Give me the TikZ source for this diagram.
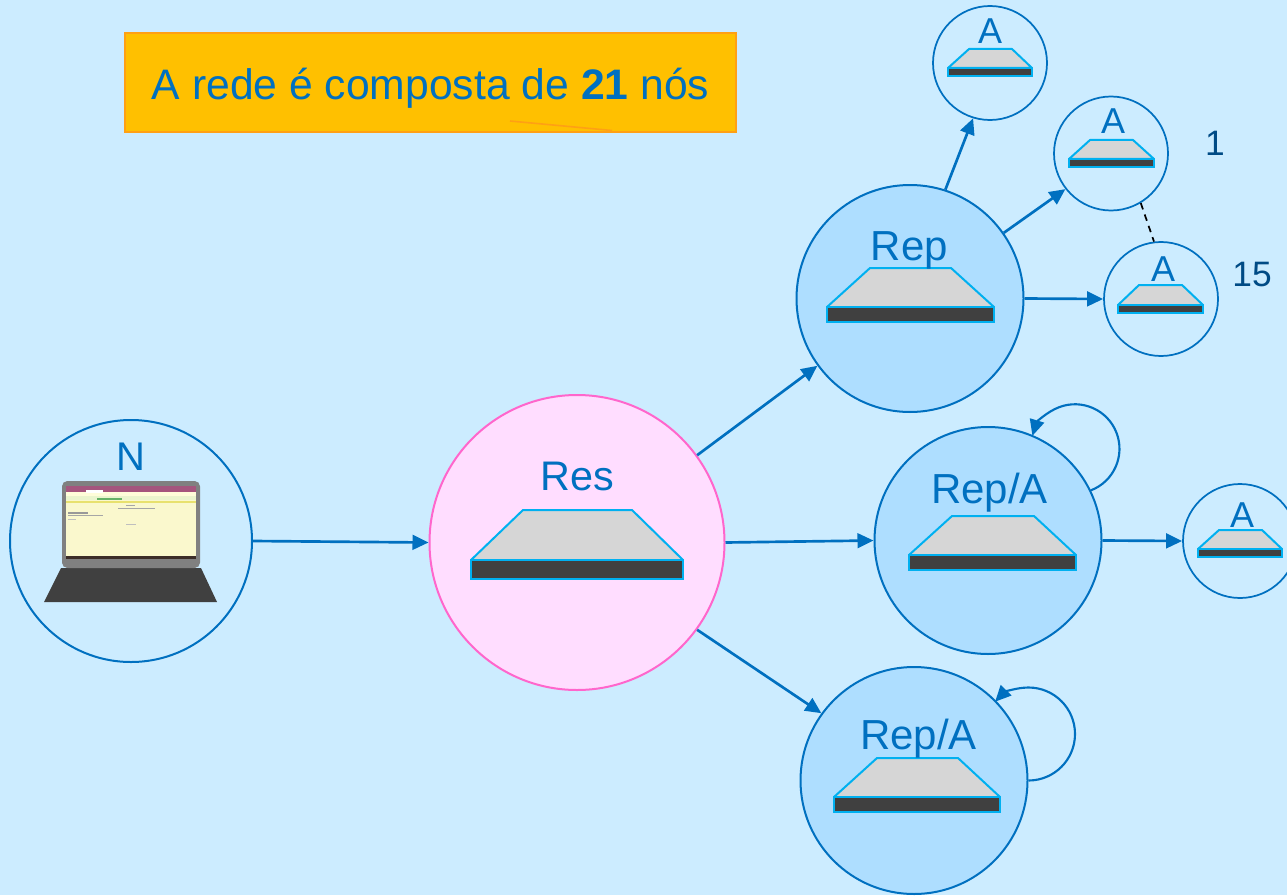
\documentclass[tikz,border=0pt]{standalone}
\usepackage{fontspec}
\setmainfont{Liberation Sans}
\usetikzlibrary{arrows.meta}
\definecolor{bgc}{HTML}{CCECFF}
\definecolor{blu}{HTML}{0070C0}
\definecolor{repc}{HTML}{AEDEFF}
\definecolor{resc}{HTML}{FFDDFF}
\definecolor{resl}{HTML}{FF66CC}
\definecolor{cyanl}{HTML}{00B0F0}
\definecolor{dark}{HTML}{404040}
\definecolor{topc}{HTML}{D6D6D6}
\definecolor{numc}{HTML}{004B85}
\definecolor{orgl}{HTML}{FFA014}
\definecolor{orgf}{HTML}{FFC000}
\definecolor{scrbody}{HTML}{FAF8CD}
\definecolor{scrhead}{HTML}{A5557D}
\definecolor{scrrow}{HTML}{EBF5CD}
\definecolor{scrstripe}{HTML}{E8E16E}
\definecolor{scrbar}{HTML}{3C2D28}
\tikzset{
  x=0.75pt,y=-0.75pt,
  hub/.style={circle,draw=blu,line width=1.5pt,inner sep=0pt},
  bignode/.style={hub,fill=repc,minimum size=170.25pt},
  leaf/.style={hub,minimum size=85.5pt,line width=1.3pt},
  link/.style={blu,line width=2pt,-{Triangle[length=12pt,width=11pt]}},
  looplink/.style={link,line width=1.6pt},
  lab/.style={anchor=base,text=blu,inner sep=0pt},
  srvtop/.style={fill=topc,draw=cyanl,line width=1.5pt,line join=round},
  srvbar/.style={fill=dark,draw=cyanl,line width=1.5pt},
}
% \srv{left}{topleft}{topright}{right}{ytop}{ymid}{ybottom}
\newcommand{\srv}[7]{%
  \draw[srvtop] (#1,#6) -- (#2,#5) -- (#3,#5) -- (#4,#6) -- cycle;
  \draw[srvbar] (#1,#6) rectangle (#4,#7);
}
\begin{document}
\begin{tikzpicture}
\useasboundingbox (0,0) rectangle (1287,895);
\clip (0,0) rectangle (1287,895);
\fill[bgc] (0,0) rectangle (1287,895);

% title
\node[draw=orgl,line width=1.4pt,fill=orgf,minimum width=458pt,minimum height=74pt,inner sep=0pt] (title) at (430.5,82.5) {};
\node[lab] (titletext) at (430.5,100) {\fontsize{32}{32}\selectfont A rede é composta de \textbf{21} nós};
\coordinate (markA) at (510,121);
\coordinate (markB) at (612,130.5);
\draw[orgl,line width=1.2pt] (markA) -- (markB);

% circles
\node[hub,minimum size=181.5pt] (n) at (131,541) {};
\node[hub,draw=resl,fill=resc,minimum size=221.25pt] (res) at (577,542.5) {};
\node[bignode] (rep) at (910,298.5) {};
\node[bignode] (mid) at (988,540.5) {};
\node[bignode] (bot) at (914,780.5) {};
\node[leaf] (a1) at (990,63) {};
\node[leaf] (a2) at (1111,153.5) {};
\node[leaf] (a3) at (1161,299) {};
\node[leaf] (a4) at (1240,541) {};

% servers
\srv{471}{523}{632}{683}{510}{560}{579}
\srv{827}{870}{951}{994}{268}{307}{322}
\srv{909}{952}{1034}{1076}{516}{555}{570}
\srv{834}{877}{958}{1000}{758}{797}{812}
\srv{948}{969}{1012}{1032}{49}{68}{76}
\srv{1069}{1090}{1133}{1154}{140}{159}{167}
\srv{1118}{1139}{1182}{1203}{285}{305}{313}
\srv{1198}{1219}{1262}{1282}{530}{549}{557}

% laptop
\fill[dark] (61,568) -- (201,568) -- (217,602) -- (44,602) -- cycle;
\fill[gray,rounded corners=4pt] (62,481) rectangle (200,568);
\fill[scrbody] (66,486) rectangle (196,559);
\fill[scrhead] (66,486) rectangle (196,492);
\fill[white!85!yellow] (66,492) rectangle (196,496);
\fill[white] (86,490) rectangle (103,493);
\fill[scrrow] (66,496) rectangle (196,500);
\fill[scrstripe] (66,501) rectangle (196,503);
\fill[green!50!black!60] (97,498) rectangle (122,500);
\fill[gray!70] (126,505) rectangle (135,506);
\fill[gray!70] (118,508) rectangle (155,509);
\fill[gray!80] (68,512) rectangle (88,514);
\fill[gray!70] (68,515) rectangle (103,516);
\fill[gray!50] (68,519) rectangle (76,520);
\fill[gray!50] (126,524) rectangle (136,525);
\fill[scrbar] (66,556) rectangle (196,559);

% labels
\node[lab] (ln) at (131,470) {\fontsize{30}{30}\selectfont N};
\node[lab] (lres) at (577.5,490) {\fontsize{31}{31}\selectfont Res};
\node[lab] (lrep) at (909.5,260) {\fontsize{31.5}{31.5}\selectfont Rep};
\node[lab] (lmid) at (989.5,503) {\fontsize{31.5}{31.5}\selectfont Rep/A};
\node[lab] (lbot) at (918.5,749) {\fontsize{31.5}{31.5}\selectfont Rep/A};
\node[lab] (la1) at (990,44) {\fontsize{27}{27}\selectfont A};
\node[lab] (la2) at (1113,134) {\fontsize{27}{27}\selectfont A};
\node[lab] (la3) at (1163,281) {\fontsize{27}{27}\selectfont A};
\node[lab] (la4) at (1242,527) {\fontsize{27}{27}\selectfont A};
\node[lab,text=numc] (one) at (1215,156) {\fontsize{26.5}{26.5}\selectfont 1};
\node[lab,text=numc] (fifteen) at (1252,286) {\fontsize{26.5}{26.5}\selectfont 15};

% connectors
\draw[link] (n.0) -- (res.180);
\draw[link] (res.36) -- (rep.216);
\draw[link] (res.0) -- (mid.180);
\draw[link] (res.-36) -- (bot.144);
\draw[link] (rep.72) -- (a1.-107);
\draw[link] (rep.35) -- (a2.-142);
\draw[link] (rep.0) -- (a3.180);
\draw[link] (mid.0) -- (a4.180);
\draw[looplink] (mid.26) arc (69:-163:44.5);
\draw[looplink] (bot.0) arc (90:-136:46.5);
\draw[black,line width=1.3pt,dash pattern=on 5pt off 4pt] (a2.-59) -- (a3.97);
\end{tikzpicture}
\end{document}
